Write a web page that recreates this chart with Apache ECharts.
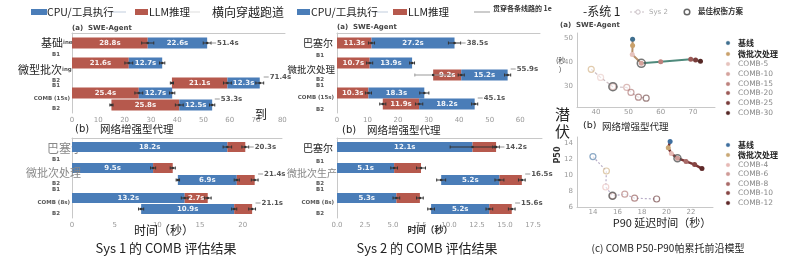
<!DOCTYPE html>
<html><head><meta charset="utf-8">
<script src="https://cdn.jsdelivr.net/npm/echarts@6/dist/echarts.min.js"></script>
<style>html,body{margin:0;padding:0;background:#fff}#c{width:800px;height:269px}</style>
</head><body><div id="c"></div><script>
// ---------------- DATA ----------------
// Sys 1, (a) SWE-Agent : rows = 基础, 微型批次 B1, 微型批次 B2, COMB(15s) B1, COMB(15s) B2 ; order LLM then CPU
const s1SweStart = [0, 0, 38.0, 0, 15.0];
const s1SweLLM   = [28.8, 21.6, 21.1, 25.4, 25.8];
const s1SweCPU   = [22.6, 12.7, 12.3, 12.7, 12.5];
const s1SweErr   = [[0, 2.3, 1.5], [0, 1.5, 1.0], [0.6, 1.5, 1.5], [0, 1.5, 1.0], [0.6, 1.5, 1.0]];
// Sys 1, (b) 网络增强型代理 : order CPU then LLM
const s1WebStart = [0, 0, 12.4, 0, 8.1];
const s1WebCPU   = [18.2, 9.5, 6.9, 13.2, 10.9];
const s1WebLLM   = [2.1, 2.3, 2.1, 2.7, 2.1];
const s1WebErr   = [[0, 0.5, 0.4], [0, 0.3, 0.3], [0.2, 0.3, 0.4], [0, 0.4, 0.4], [0.3, 0.3, 0.4]];
// Sys 2, (a) SWE-Agent
const s2SweStart = [0, 0, 31.5, 0, 15.0];
const s2SweLLM   = [11.3, 10.7, 9.2, 10.3, 11.9];
const s2SweCPU   = [27.2, 13.9, 15.2, 18.3, 18.2];
const s2SweErr   = [[0, 1.0, 2.0], [0, 1.0, 0.8], [6.0, 1.0, 1.0], [0, 1.0, 1.5], [1.0, 1.2, 1.0]];
// Sys 2, (b) 网络增强型代理
const s2WebStart = [0, 0, 9.3, 0, 8.4];
const s2WebCPU   = [12.1, 5.1, 5.2, 5.3, 5.2];
const s2WebLLM   = [2.1, 2.4, 2.0, 2.1, 2.0];
const s2WebErr   = [[0, 2.0, 0.3], [0, 0.3, 0.4], [0.4, 0.4, 0.3], [0, 0.3, 0.3], [0.3, 0.3, 0.3]];

// Pareto (a) SWE-Agent : P90 vs P50
const paretoANames = ['基线', '微批次处理', 'COMB-5', 'COMB-10', 'COMB-15', 'COMB-20', 'COMB-25', 'COMB-30'];
const paretoASys1X = [51.3, 51.3, 51.2, 54.0, 60.0, 69.3, 70.8, 72.3];
const paretoASys1Y = [49.6, 47.0, 43.2, 39.5, 40.2, 41.2, 40.9, 40.4];
const paretoASys2X = [38.5, 41.4, 45.2, 49.5, 50.8, 53.1, 55.5];
const paretoASys2Y = [37.0, 33.6, 29.7, 29.4, 27.3, 25.3, 24.9];
const paretoABest  = [[54.0, 39.5], [45.2, 29.7]];
const paretoAXTicks = [40, 50, 60, 70];
const paretoAYTicks = [30, 40, 50];
// Pareto (b) 网络增强型代理
const paretoBNames = ['基线', '微批次处理', 'COMB-4', 'COMB-6', 'COMB-8', 'COMB-10', 'COMB-12'];
const paretoBSys1X = [20.3, 20.15, 20.4, 20.9, 21.6, 22.3, 22.9];
const paretoBSys1Y = [14.2, 13.4, 12.7, 12.1, 11.7, 11.3, 10.8];
const paretoBSys2X = [14.0, 15.1, 15.05, 15.6, 16.6, 17.4, 19.2];
const paretoBSys2Y = [12.3, 10.5, 8.5, 7.4, 7.6, 7.1, 7.0];
const paretoBBest  = [[15.6, 7.4], [20.9, 12.1]];
const paretoBXTicks = [14, 16, 18, 20, 22];
const paretoBYTicks = [6, 8, 10, 12, 14];

// ---------------- LAYOUT / STYLE ----------------
const BLUE = '#4a7db8', RED = '#b6594d';
const FONT = "'DejaVu Sans','Noto Sans CJK SC',sans-serif";
const CJK = "'Noto Sans CJK SC','Noto Sans',sans-serif";
const rowsA = [1.0, 3.0, 5.0, 6.0, 7.2];
const rowsC = [1.0, 3.0, 4.2, 6.0, 7.1];
const rowsB = [0.9, 3.0, 4.2, 6.0, 7.1];
const palA = ['#3f6f8f', '#c9a06a', '#e6c3bd', '#d5a29c', '#bd817c', '#9c5a57', '#7a3d3b', '#552725'];
const palB = ['#3f6f9f', '#c9a875', '#e6b9b5', '#cf9a96', '#a96a68', '#874644', '#5e2828'];

function barSeries(idx, starts, v1, v2, errs, rows, c1, c2, barH, labelMin) {
  return {
    type: 'custom', xAxisIndex: idx, yAxisIndex: idx, clip: false, z: 3,
    data: starts.map((s, i) => [s, v1[i], v2[i], rows[i], errs[i][0], errs[i][1], errs[i][2]]),
    encode: { x: [0], y: [3] },
    renderItem: (params, api) => {
      const i = params.dataIndex;
      const st = api.value(0), a = api.value(1), b = api.value(2), y = api.value(3);
      const eS = api.value(4), eM = api.value(5), eE = api.value(6);
      const p0 = api.coord([st, y]), p1 = api.coord([st + a, y]), p2 = api.coord([st + a + b, y]);
      const cy = p0[1], top = cy - barH / 2;
      const ch = [];
      ch.push({ type: 'rect', shape: { x: p0[0], y: top, width: p1[0] - p0[0], height: barH }, style: { fill: c1 } });
      ch.push({ type: 'rect', shape: { x: p1[0], y: top, width: p2[0] - p1[0], height: barH }, style: { fill: c2 } });
      [[a, p0, p1], [b, p1, p2]].forEach(([v, pa, pb]) => {
        if (v >= labelMin && pb[0] - pa[0] >= 20) {
          ch.push({ type: 'text', x: (pa[0] + pb[0]) / 2, y: cy, style: { text: v.toFixed(1) + 's', fill: 'rgba(255,255,255,0.92)', font: 'bold 7px ' + FONT, align: 'center', verticalAlign: 'middle', textAlign: 'center', textVerticalAlign: 'middle' } });
        }
      });
      const wh = (xv, e, col) => {
        if (!e) return;
        const l = api.coord([xv - e, y]), r = api.coord([xv + e, y]);
        ch.push({ type: 'line', shape: { x1: l[0], y1: cy, x2: r[0], y2: cy }, style: { stroke: col, lineWidth: 1 } });
        ch.push({ type: 'line', shape: { x1: l[0], y1: cy - 1.5, x2: l[0], y2: cy + 1.5 }, style: { stroke: col, lineWidth: 1 } });
        ch.push({ type: 'line', shape: { x1: r[0], y1: cy - 1.5, x2: r[0], y2: cy + 1.5 }, style: { stroke: col, lineWidth: 1 } });
        const c = api.coord([xv, y]);
        ch.push({ type: 'circle', shape: { cx: c[0], cy: cy, r: 1.3 }, style: { fill: '#333' } });
      };
      wh(st, eS, eS > 3 ? '#999' : '#333');
      wh(st + a, eM, '#333');
      wh(st + a + b, eE, '#333');
      if (i === 0 || st > 0) {
        const tot = st + a + b;
        const er = api.coord([tot + eE, y]);
        const ty = i === 0 ? cy : cy - 6;
        const tx = er[0] + 5;
        ch.push({ type: 'line', shape: { x1: er[0], y1: ty, x2: tx, y2: ty }, style: { stroke: '#999', lineWidth: 1 } });
        ch.push({ type: 'text', x: tx + 1, y: ty, style: { text: tot.toFixed(1) + 's', fill: '#555', font: 'bold 7px ' + FONT, align: 'left', verticalAlign: 'middle', textAlign: 'left', textVerticalAlign: 'middle' } });
      }
      return { type: 'group', children: ch };
    }
  };
}

const grids = [
  { left: 72, top: 33, width: 213, height: 80 },
  { left: 72, top: 138, width: 210, height: 80 },
  { left: 337, top: 33, width: 203, height: 80 },
  { left: 337, top: 138, width: 205, height: 80 },
  { left: 577, top: 33, width: 138, height: 74 },
  { left: 577, top: 137, width: 136, height: 70 }
];
const axLine = { show: true, lineStyle: { color: '#c8c8c8', width: 1 } };
function barX(grid, max, step) {
  return { type: 'value', gridIndex: grid, min: 0, max: max, interval: step, axisLine: axLine, axisTick: { show: false }, splitLine: { show: false },
    axisLabel: { color: '#999', fontSize: 7, fontFamily: FONT, margin: 4, showMaxLabel: false,
      formatter: v => (Math.abs(v / step - Math.round(v / step)) < 1e-6 ? (step === 2.5 ? v.toFixed(1) : String(v)) : '') } };
}
function barY(grid) {
  return { type: 'value', gridIndex: grid, min: 0, max: 8, inverse: true, axisLine: axLine, axisTick: { show: false }, splitLine: { show: false }, axisLabel: { show: false } };
}
function scAxis(type, grid, min, max, ticks) {
  return { type: 'value', gridIndex: grid, min: min, max: max, axisLine: axLine, axisTick: { show: false }, splitLine: { show: false },
    axisLabel: { customValues: ticks, color: '#999', fontSize: 7, fontFamily: FONT, margin: type === 'x' ? 2 : 4 } };
}

function pts(xs, ys) { return xs.map((x, i) => [x, ys[i]]); }
function coloredPts(xs, ys, pal, hollow, op) {
  return xs.map((x, i) => ({ value: [x, ys[i]], itemStyle: hollow ? { color: '#fff', borderColor: pal[i % pal.length], borderWidth: 1.2, opacity: op } : { color: pal[i % pal.length], opacity: op } }));
}

const sysA1 = pts(paretoASys1X, paretoASys1Y);
const sysB1 = pts(paretoBSys1X, paretoBSys1Y);

const series = [
  barSeries(0, s1SweStart, s1SweLLM, s1SweCPU, s1SweErr, rowsA, RED, BLUE, 11, 0),
  barSeries(1, s1WebStart, s1WebCPU, s1WebLLM, s1WebErr, rowsB, BLUE, RED, 10, 2.5),
  barSeries(2, s2SweStart, s2SweLLM, s2SweCPU, s2SweErr, rowsC, RED, BLUE, 11, 0),
  barSeries(3, s2WebStart, s2WebCPU, s2WebLLM, s2WebErr, rowsB, BLUE, RED, 10, 2.5),
  // Pareto A
  { type: 'line', xAxisIndex: 4, yAxisIndex: 4, data: pts(paretoASys2X, paretoASys2Y), showSymbol: false, lineStyle: { color: '#cdbfc4', width: 1.2, type: [3, 2] }, z: 2 },
  { type: 'scatter', xAxisIndex: 4, yAxisIndex: 4, data: coloredPts(paretoASys2X, paretoASys2Y, palA.slice(1), true, 0.55), symbolSize: 6, z: 3 },
  { type: 'line', xAxisIndex: 4, yAxisIndex: 4, data: sysA1.slice(3), showSymbol: false, lineStyle: { color: '#4f8a7c', width: 2 }, z: 4 },
  { type: 'line', xAxisIndex: 4, yAxisIndex: 4, data: sysA1.slice(0, 4), showSymbol: false, lineStyle: { color: '#b8906a', width: 2 }, z: 4 },
  { type: 'scatter', xAxisIndex: 4, yAxisIndex: 4, data: coloredPts(paretoASys1X, paretoASys1Y, palA, false, 1), symbolSize: 5, z: 5 },
  { type: 'scatter', xAxisIndex: 4, yAxisIndex: 4, data: paretoABest, symbol: 'circle', symbolSize: 8, itemStyle: { color: 'rgba(0,0,0,0)', borderColor: '#555', borderWidth: 1.6 }, z: 6 },
  // Pareto B
  { type: 'line', xAxisIndex: 5, yAxisIndex: 5, data: pts(paretoBSys2X, paretoBSys2Y), showSymbol: false, lineStyle: { color: '#b9aec8', width: 1.2, type: [2, 2] }, z: 2 },
  { type: 'scatter', xAxisIndex: 5, yAxisIndex: 5, data: coloredPts(paretoBSys2X, paretoBSys2Y, palB, true, 0.6), symbolSize: 6, z: 3 },
  { type: 'line', xAxisIndex: 5, yAxisIndex: 5, data: sysB1, showSymbol: false, lineStyle: { color: '#7a3434', width: 2.5 }, z: 4 },
  { type: 'scatter', xAxisIndex: 5, yAxisIndex: 5, data: coloredPts(paretoBSys1X, paretoBSys1Y, palB, false, 1), symbolSize: 5, z: 5 },
  { type: 'scatter', xAxisIndex: 5, yAxisIndex: 5, data: paretoBBest, symbol: 'circle', symbolSize: 7, itemStyle: { color: 'rgba(0,0,0,0)', borderColor: '#555', borderWidth: 1.5 }, z: 6 }
];

// ---------------- TEXT / LEGENDS ----------------
const G = [];
function T(x, y, text, size, o) {
  o = o || {};
  G.push({ type: 'text', x: x, y: y, z: o.z == null ? 50 : o.z, rotation: o.rot || 0,
    style: { text: text, font: (o.bold ? 'bold ' : '') + size + 'px ' + (o.f || CJK), fill: o.c || '#222',
      align: o.a || 'left', textAlign: o.a || 'left', verticalAlign: 'middle', textVerticalAlign: 'middle' } });
}
function R(x, y, w, h, fill) { G.push({ type: 'rect', z: 50, shape: { x: x, y: y, width: w, height: h }, style: { fill: fill } }); }
function L(x1, y1, x2, y2, col, w, dash) { G.push({ type: 'line', z: 50, shape: { x1: x1, y1: y1, x2: x2, y2: y2 }, style: { stroke: col, lineWidth: w || 1, lineDash: dash || null } }); }
function C(cx, cy, r, fill, stroke, w) { G.push({ type: 'circle', z: 50, shape: { cx: cx, cy: cy, r: r }, style: { fill: fill, stroke: stroke, lineWidth: w || 1 } }); }

// top legends
R(31, 9, 16, 6, BLUE); L(108, 12, 126, 12, '#e0e6ee', 2);
T(47, 12, 'CPU/工具执行', 10.5);
R(135, 9, 13, 6, RED); L(190, 12, 200, 12, '#eee', 2);
T(149, 12, 'LLM推理', 10.5);
T(212, 12, '横向穿越跑道', 12);
R(297, 9, 13, 6, BLUE); L(372, 12, 388, 12, '#e0e6ee', 2);
T(311, 12, 'CPU/工具执行', 10.5);
R(393, 9, 14, 6, RED);
T(408, 12, 'LLM推理', 10.5);
L(474, 12, 490, 12, '#999', 1);
T(493, 8, '贯穿各条线路的 1e', 7, { bold: true, c: '#333' });
T(583, 11, '-系统 1', 12);
L(630, 12, 646, 12, '#c9bfc5', 1, [2, 2]); C(638, 12, 2.2, '#fff', '#c9bfc5', 1);
T(649, 12, 'Sys 2', 7, { f: FONT, c: '#aaa' });
C(687, 12, 2.8, '#fff', '#666', 1.5);
T(698, 11, '最佳权衡方案', 7.5, { bold: true, c: '#333' });

// subtitles
T(72, 28, '(a)  SWE-Agent', 7, { bold: true, f: FONT, c: '#444' });
T(337, 27, '(a)  SWE-Agent', 7, { bold: true, f: FONT, c: '#444' });
T(560, 25, '(a)  SWE-Agent', 7, { bold: true, f: FONT, c: '#444' });
T(75, 129, '(b)', 10, { f: FONT }); T(100, 129, '网络增强型代理', 10.5);
T(342, 130, '(b)', 10, { f: FONT }); T(367, 130, '网络增强型代理', 10.5);
T(583, 126, '(b)', 9.5, { f: FONT }); T(602, 126, '网络增强型代理', 9.5);

// row labels: panel a
T(63, 43, '基础', 11, { a: 'right' }); T(63, 43, 'ine', 5.5, { bold: true, f: FONT, c: '#555' });
T(56, 55, 'B1', 5.5, { bold: true, f: FONT, c: '#555', a: 'center' });
T(62, 70, '微型批次', 11, { a: 'right' }); T(62, 70, 'ing', 5.5, { bold: true, f: FONT, c: '#555' });
T(56, 81, 'B2', 5.5, { bold: true, f: FONT, c: '#555', a: 'center' });
T(56, 86, 'B1', 5.5, { bold: true, f: FONT, c: '#555', a: 'center' });
T(70, 99, 'COMB (15s)', 5.5, { bold: true, f: FONT, c: '#555', a: 'right' });
T(56, 109, 'B2', 5.5, { bold: true, f: FONT, c: '#555', a: 'center' });
// panel b
T(47, 148, '巴塞尔', 12, { c: '#888', z: 1 });
T(56, 160, 'B1', 5.5, { bold: true, f: FONT, c: '#555', a: 'center' });
T(26, 173, '微批次处理', 11, { c: '#888' });
T(56, 184, 'B2', 5.5, { bold: true, f: FONT, c: '#555', a: 'center' });
T(56, 190, 'B1', 5.5, { bold: true, f: FONT, c: '#555', a: 'center' });
T(70, 203, 'COMB (8s)', 5.5, { bold: true, f: FONT, c: '#555', a: 'right' });
T(56, 214, 'B2', 5.5, { bold: true, f: FONT, c: '#555', a: 'center' });
// panel c
T(333, 43, '巴塞尔', 10, { a: 'right' });
T(320, 56, 'B1', 5.5, { bold: true, f: FONT, c: '#555', a: 'center' });
T(335, 69, '微批次处理', 9.5, { a: 'right' });
T(320, 80, 'B2', 5.5, { bold: true, f: FONT, c: '#555', a: 'center' });
T(320, 86, 'B1', 5.5, { bold: true, f: FONT, c: '#555', a: 'center' });
T(334, 98, 'COMB (15s)', 5.5, { bold: true, f: FONT, c: '#555', a: 'right' });
T(320, 110, 'B2', 5.5, { bold: true, f: FONT, c: '#555', a: 'center' });
// panel d
T(333, 148, '巴塞尔', 10, { a: 'right' });
T(320, 162, 'B1', 5.5, { bold: true, f: FONT, c: '#555', a: 'center' });
T(337, 173, '微批次生产', 10, { a: 'right', c: '#888' });
T(320, 184, 'B2', 5.5, { bold: true, f: FONT, c: '#555', a: 'center' });
T(320, 190, 'B1', 5.5, { bold: true, f: FONT, c: '#555', a: 'center' });
T(334, 203, 'COMB (8s)', 5.5, { bold: true, f: FONT, c: '#555', a: 'right' });
T(320, 214, 'B2', 5.5, { bold: true, f: FONT, c: '#555', a: 'center' });

// misc overlay texts
T(255, 114, '到', 12);
T(555, 114, '潜', 15); T(555, 131, '伏', 15);
T(556, 60, '(秒', 7, { c: '#333' }); T(559, 69, ')', 7, { c: '#333' });
T(558, 155, 'P50', 8, { bold: true, f: FONT, rot: Math.PI / 2, a: 'center', c: '#333' });
T(662, 223, 'P90 延迟时间（秒）', 11, { a: 'center' });
T(668, 248, '(c) COMB P50-P90帕累托前沿模型', 10, { a: 'center' });
T(166, 248, 'Sys 1 的 COMB 评估结果', 13, { a: 'center' });
T(427, 248, 'Sys 2 的 COMB 评估结果', 13, { a: 'center' });
T(164, 230, '时间（秒）', 12, { a: 'center' });
T(430, 230, '时间（秒）', 9, { a: 'center', bold: true, c: '#333' });

// right legends
const legAY = [43, 54, 64, 74, 84, 93, 103, 113];
paretoANames.forEach((n, i) => { C(728, legAY[i], 1.8, palA[i], palA[i], 0.5); T(738, legAY[i], n, i < 2 ? 8 : 7.5, { c: i < 2 ? '#222' : '#888', bold: i < 2, f: i < 2 ? CJK : FONT }); });
const legBY = [145, 155, 165, 174, 184, 193, 203];
paretoBNames.forEach((n, i) => { C(728, legBY[i], 1.8, palB[i], palB[i], 0.5); T(738, legBY[i], n, i < 2 ? 8 : 7.5, { c: i < 2 ? '#222' : '#888', bold: i < 2, f: i < 2 ? CJK : FONT }); });

const option = {
  backgroundColor: '#fff',
  animation: false,
  grid: grids,
  xAxis: [barX(0, 81, 10), barX(1, 24.6, 5), barX(2, 66.5, 10), barX(3, 18.3, 2.5),
          scAxis('x', 4, 34.1, 76.8, paretoAXTicks), scAxis('x', 5, 12.7, 23.8, paretoBXTicks)],
  yAxis: [barY(0), barY(1), barY(2), barY(3),
          scAxis('y', 4, 21.2, 52.2, paretoAYTicks), scAxis('y', 5, 6, 14.75, paretoBYTicks)],
  series: series,
  graphic: { elements: G }
};
const chart = echarts.init(document.getElementById('c'), null, { renderer: 'canvas', width: 800, height: 269 });
chart.setOption(option);
</script></body></html>
